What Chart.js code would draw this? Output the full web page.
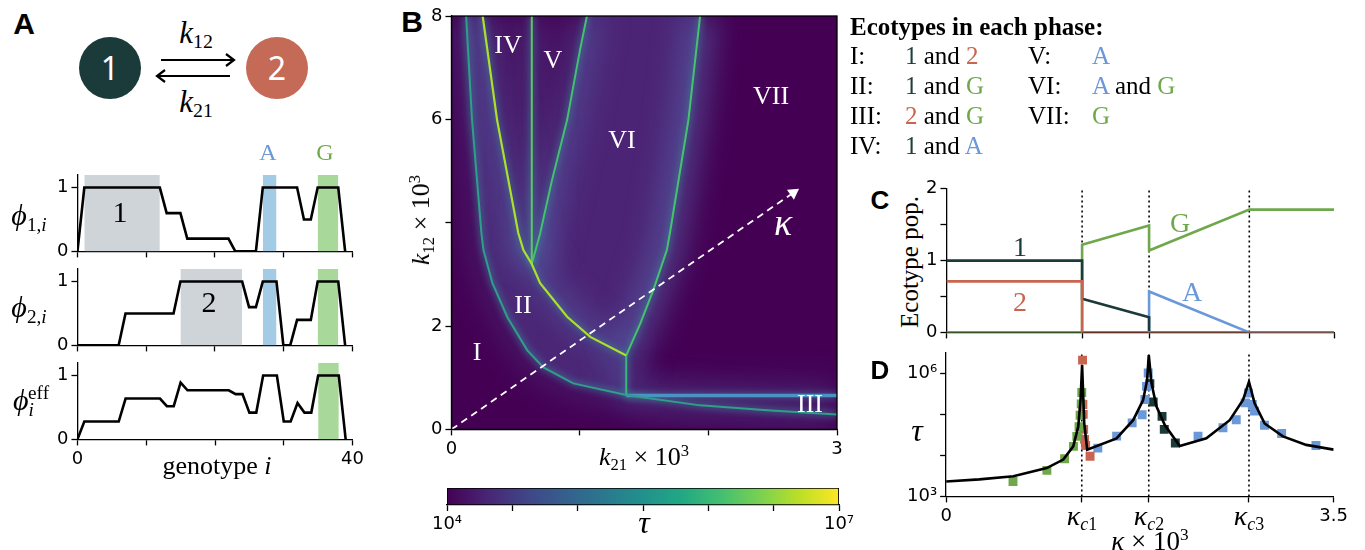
<!DOCTYPE html>
<html>
<head>
<meta charset="utf-8">
<title>Ecotype phases</title>
<script src="https://cdn.jsdelivr.net/npm/chart.js@4.4.1/dist/chart.umd.min.js"></script>
<style>
  body { margin: 0; background: #fff; }
  #fig { position: relative; width: 1365px; height: 550px; overflow: hidden; background: #fff; }
  .w { position: absolute; left: 0; top: 0; }
  .w canvas { display: block; }
  .t { position: absolute; transform: translate(-50%, -50%); white-space: nowrap; line-height: 1;
       font-family: "Liberation Serif", "DejaVu Serif", serif; }
  .l { transform: translate(0, -50%); }
  .rot { transform: translate(-50%, -50%) rotate(-90deg); }
  .i { font-style: italic; }
  .t sub { font-size: 0.64em; vertical-align: -0.3em; line-height: 0; }
  .t sup { font-size: 0.64em; vertical-align: 0.55em; line-height: 0; }
  .panel { font-family: "Liberation Sans", Arial, sans-serif; font-weight: bold; }
  .node { position: absolute; width: 62px; height: 62px; border-radius: 50%; color: #fff;
          font: 32px "Noto Sans", sans-serif; text-align: center; line-height: 62px; }
  .wh { color: #fff; font-size: 26px; }
</style>
</head>
<body>
<div id="fig">
  <div class="w" id="wA1"><canvas id="cA1" width="340" height="120"></canvas></div>
  <div class="w" id="wA2"><canvas id="cA2" width="340" height="120"></canvas></div>
  <div class="w" id="wA3"><canvas id="cA3" width="340" height="140"></canvas></div>
  <div class="w" id="wB"><canvas id="cB" width="460" height="480"></canvas></div>
  <div class="w" id="wCb"><canvas id="cCb" width="460" height="80"></canvas></div>
  <div class="w" id="wC"><canvas id="cC" width="440" height="180"></canvas></div>
  <div class="w" id="wD"><canvas id="cD" width="440" height="200"></canvas></div>

  <!-- panel A diagram -->
  <div class="t panel" style="left:24px;top:24px;font-size:30px">A</div>
  <div class="node" style="left:79px;top:37px;background:#1b3a3a">1</div>
  <div class="node" style="left:246px;top:37px;background:#c56a56">2</div>
  <svg style="position:absolute;left:0;top:0" width="360" height="130">
    <g stroke="#000" stroke-width="2.2" fill="none">
      <line x1="161" y1="60" x2="233" y2="60"/>
      <polyline points="226,54 234,60 226,66"/>
      <line x1="230" y1="76" x2="158" y2="76"/>
      <polyline points="165,70 157,76 165,82"/>
    </g>
  </svg>
  <div class="t" style="left:196px;top:32px;font-size:31px"><span class="i">k</span><sub>12</sub></div>
  <div class="t" style="left:196px;top:101px;font-size:31px"><span class="i">k</span><sub>21</sub></div>
  <div class="t" style="left:268px;top:152px;font-size:24px;color:#6a98d8">A</div>
  <div class="t" style="left:325px;top:152px;font-size:24px;color:#6fa84c">G</div>
  <div class="t" style="left:120px;top:212px;font-size:30px">1</div>
  <div class="t" style="left:209px;top:302px;font-size:30px">2</div>
  <div class="t" style="left:29px;top:215px;font-size:30px"><span class="i">ϕ</span><sub>1,<span class="i">i</span></sub></div>
  <div class="t" style="left:29px;top:307px;font-size:30px"><span class="i">ϕ</span><sub>2,<span class="i">i</span></sub></div>
  <div class="t" style="left:31px;top:400px;font-size:30px"><span class="i">ϕ</span><sub class="i">i</sub><sup style="margin-left:-0.3em">eff</sup></div>
  <div class="t" style="left:217px;top:466px;font-size:26px">genotype <span class="i">i</span></div>

  <!-- panel B -->
  <div class="t panel" style="left:412px;top:22px;font-size:30px">B</div>
  <div class="t rot" style="left:421px;top:220px;font-size:26px"><span class="i">k</span><sub>12</sub> × 10<sup>3</sup></div>
  <div class="t" style="left:644px;top:457px;font-size:26px"><span class="i">k</span><sub>21</sub> × 10<sup>3</sup></div>
  <div class="t wh" style="left:508px;top:45px">IV</div>
  <div class="t wh" style="left:553px;top:60px">V</div>
  <div class="t wh" style="left:622px;top:140px">VI</div>
  <div class="t wh" style="left:771px;top:96px">VII</div>
  <div class="t wh" style="left:523px;top:305px">II</div>
  <div class="t wh" style="left:477px;top:352px">I</div>
  <div class="t wh" style="left:810px;top:404px">III</div>
  <div class="t i" style="left:783px;top:222px;font-size:38px;color:#fff">κ</div>
  <div class="t i" style="left:644px;top:522px;font-size:32px">τ</div>

  <!-- legend -->
  <div class="t l" style="left:850px;top:26px;font-size:25px;font-weight:bold">Ecotypes in each phase:</div>
  <div class="t l" style="left:850px;top:55px;font-size:25px">I:</div>
  <div class="t l" style="left:850px;top:85px;font-size:25px">II:</div>
  <div class="t l" style="left:850px;top:115px;font-size:25px">III:</div>
  <div class="t l" style="left:850px;top:145px;font-size:25px">IV:</div>
  <div class="t l" style="left:905px;top:55px;font-size:25px"><span style="color:#1e3d3c">1</span> and <span style="color:#c8644f">2</span></div>
  <div class="t l" style="left:905px;top:85px;font-size:25px"><span style="color:#1e3d3c">1</span> and <span style="color:#6fa84c">G</span></div>
  <div class="t l" style="left:905px;top:115px;font-size:25px"><span style="color:#c8644f">2</span> and <span style="color:#6fa84c">G</span></div>
  <div class="t l" style="left:905px;top:145px;font-size:25px"><span style="color:#1e3d3c">1</span> and <span style="color:#6a98d8">A</span></div>
  <div class="t l" style="left:1028px;top:55px;font-size:25px">V:</div>
  <div class="t l" style="left:1028px;top:85px;font-size:25px">VI:</div>
  <div class="t l" style="left:1028px;top:115px;font-size:25px">VII:</div>
  <div class="t l" style="left:1092px;top:55px;font-size:25px"><span style="color:#6a98d8">A</span></div>
  <div class="t l" style="left:1092px;top:85px;font-size:25px"><span style="color:#6a98d8">A</span> and <span style="color:#6fa84c">G</span></div>
  <div class="t l" style="left:1092px;top:115px;font-size:25px"><span style="color:#6fa84c">G</span></div>

  <!-- panel C -->
  <div class="t panel" style="left:880px;top:200px;font-size:26px">C</div>
  <div class="t rot" style="left:909px;top:262px;font-size:25px">Ecotype pop.</div>
  <div class="t" style="left:1020px;top:247px;font-size:28px;color:#1b3a3a">1</div>
  <div class="t" style="left:1020px;top:302px;font-size:28px;color:#c8644f">2</div>
  <div class="t" style="left:1180px;top:223px;font-size:28px;color:#6fa84c">G</div>
  <div class="t" style="left:1192px;top:292px;font-size:28px;color:#6a98d8">A</div>

  <!-- panel D -->
  <div class="t panel" style="left:880px;top:370px;font-size:26px">D</div>
  <div class="t i" style="left:917px;top:430px;font-size:32px">τ</div>
  <div class="t" style="left:1082px;top:516px;font-size:28px"><span class="i">κ</span><sub><span class="i">c</span>1</sub></div>
  <div class="t" style="left:1149px;top:516px;font-size:28px"><span class="i">κ</span><sub><span class="i">c</span>2</sub></div>
  <div class="t" style="left:1249px;top:516px;font-size:28px"><span class="i">κ</span><sub><span class="i">c</span>3</sub></div>
  <div class="t" style="left:1150px;top:541px;font-size:27px"><span class="i">κ</span> × 10<sup>3</sup></div>
</div>

<script>
// ---- panel A: genotype profiles ----
const phi1X = [0, 1, 12, 13, 15, 16, 22, 23, 26, 27, 32, 33, 34, 35, 38, 39];
const phi1Y = [0, 1, 1, 0.6, 0.6, 0.2, 0.2, 0, 0, 1, 1, 0.5, 0.5, 1, 1, 0];
const phi2X = [0, 6, 7, 14, 15, 24, 25, 26, 27, 29, 30, 31, 32, 34, 35, 38, 39];
const phi2Y = [0, 0, 0.5, 0.5, 1, 1, 0.6, 0.6, 1, 1, 0, 0, 0.4, 0.4, 1, 1, 0];
const phiEffX = [0, 1, 6, 7, 12, 13, 14, 15, 16, 22, 23, 24, 25, 26, 27, 29, 30, 31, 32, 33, 34, 35, 38, 39];
const phiEffY = [0, 0.28, 0.28, 0.64, 0.64, 0.52, 0.52, 0.89, 0.77, 0.77, 0.71, 0.71, 0.42, 0.42, 1, 1, 0.28, 0.28, 0.57, 0.42, 0.42, 1, 1, 0];
// highlighted genotype ranges and which ecotype they belong to
const phi1Bands = [[1, 12], [27, 29], [35, 38]];
const phi1BandKinds = ['1', 'A', 'G'];
const phi2Bands = [[15, 24], [27, 29], [35, 38]];
const phi2BandKinds = ['2', 'A', 'G'];
const phiEffBands = [[35, 38]];
const phiEffBandKinds = ['G'];

// ---- panel B: phase boundaries (k21, k12) x 10^3 ----
const bndI_II_k21 = [0.114, 0.16, 0.233, 0.249, 0.319, 0.435, 0.59, 0.715, 0.948, 1.368, 1.935, 2.455, 3.0];
const bndI_II_k12 = [8.0, 5.99, 3.8, 3.47, 2.83, 2.17, 1.53, 1.2, 0.89, 0.66, 0.465, 0.37, 0.29];
const bndII_k21 = [0.243, 0.355, 0.52, 0.56, 0.625, 0.69, 0.9, 1.08, 1.36];
const bndII_k12 = [8.0, 5.99, 3.8, 3.47, 3.2, 2.83, 2.18, 1.79, 1.43];
const bndIV_V_k21 = [0.625, 0.625];
const bndIV_V_k12 = [3.2, 8.0];
const bndV_VI_k21 = [0.625, 0.69, 0.78, 0.9, 1.0, 1.054];
const bndV_VI_k12 = [3.2, 3.79, 4.8, 5.99, 7.34, 8.0];
const bndVI_VII_k21 = [1.36, 1.39, 1.47, 1.57, 1.676, 1.7, 1.844, 1.935];
const bndVI_VII_k12 = [1.43, 1.6, 2.05, 2.69, 3.47, 3.8, 5.99, 8.0];
const bndII_III_k21 = [1.36, 1.36];
const bndII_III_k12 = [0.655, 1.43];
const bndIII_k21 = [1.36, 3.0];
const bndIII_k12 = [0.655, 0.655];
const kappaPathK21 = [0, 2.66];
const kappaPathK12 = [0, 4.58];

// ---- colorbar ----
const tauBarRange = [1e4, 1e7];
const tauBarTicks = [1e4, 10 ** 4.5, 1e5, 10 ** 5.5, 1e6, 10 ** 6.5, 1e7];

// ---- panel C: ecotype populations vs kappa ----
const kappaC = [1.225, 1.83, 2.735];
const pop1K = [0, 1.225, 1.225, 1.83, 1.83, 3.5];
const pop1V = [1, 1, 0.47, 0.21, 0, 0];
const pop2K = [0, 1.225, 1.225, 3.5];
const pop2V = [0.71, 0.71, 0, 0];
const popGK = [0, 1.225, 1.225, 1.83, 1.83, 2.735, 3.5];
const popGV = [0, 0, 1.22, 1.49, 1.14, 1.71, 1.71];
const popAK = [1.83, 1.83, 2.735, 3.5];
const popAV = [0, 0.57, 0, 0];

// ---- panel D: relaxation time tau vs kappa ----
const tauCurveK = [0, 0.3, 0.607, 0.908, 1.058, 1.148, 1.193, 1.214, 1.228, 1.247, 1.274, 1.539, 1.689, 1.779, 1.815,
  1.83, 1.855, 1.9, 1.975, 2.11, 2.35, 2.561, 2.681, 2.735, 2.786, 2.876, 3.042, 3.252, 3.5];
const tauCurve = [2.3e3, 2.6e3, 3.1e3, 4.9e3, 7.9e3, 1.66e4, 5.0e4, 2.24e5, 1.6e6, 6.2e4, 1.38e4, 2.6e4, 7.2e4, 2.24e5, 6.8e5,
  2.8e6, 5.6e5, 1.55e5, 5.5e4, 1.7e4, 2.6e4, 7.2e4, 2.24e5, 6.2e5, 1.86e5, 6.0e4, 2.9e4, 1.8e4, 1.38e4];
const simGK = [0.604, 0.91, 1.07, 1.15, 1.18, 1.2, 1.21, 1.22, 1.225];
const simGTau = [2.3e3, 4.3e3, 8.3e3, 1.66e4, 2.9e4, 5.0e4, 9.5e4, 1.8e5, 3.4e5];
const sim2K = [1.232, 1.235, 1.238, 1.242, 1.25, 1.26, 1.3];
const sim2Tau = [2.1e6, 1.74e5, 1.0e5, 4.3e4, 2.45e4, 1.74e4, 9.5e3];
const simA1K = [1.37, 1.54, 1.68, 1.77, 1.795, 1.81, 1.825];
const simA1Tau = [1.5e4, 2.95e4, 6.2e4, 9.8e4, 2.3e5, 4.8e5, 1.02e6];
const sim1K = [1.84, 1.87, 1.95, 1.97, 2.07];
const sim1Tau = [5.6e5, 2.0e5, 8.9e4, 4.3e4, 2.0e4];
const simA2K = [2.275, 2.5, 2.62, 2.7, 2.73, 2.765, 2.785, 2.875, 3.03, 3.34];
const simA2Tau = [2.95e4, 4.7e4, 7.4e4, 1.9e5, 3.3e5, 1.74e5, 1.2e5, 5.4e4, 3.4e4, 1.74e4];

// colours
const ecoColor = { '1': '#1b3a3a', '2': '#c8644f', 'A': '#6a98d8', 'G': '#6fa84c' };
const bandColor = { '1': '#cfd4d8', '2': '#cfd4d8', 'A': '#a3cbe6', 'G': '#a8d89a' };
const viridis = ['#440154', '#482475', '#414487', '#355f8d', '#2a788e', '#21918c', '#22a884', '#44bf70', '#7ad151', '#bddf26', '#fde725'];

Chart.defaults.font.family = '"DejaVu Sans", sans-serif';
Chart.defaults.font.size = 18;
Chart.defaults.color = '#000';
Chart.defaults.animation = false;
Chart.defaults.responsive = false;
Chart.defaults.maintainAspectRatio = false;
Chart.defaults.plugins.legend.display = false;
Chart.defaults.plugins.tooltip.enabled = false;
Chart.defaults.elements.point.radius = 0;
Chart.defaults.elements.line.tension = 0;

const pts = (xs, ys) => xs.map((x, i) => ({ x, y: ys[i] }));

function axis(min, max, vals, label, extra) {
  return Object.assign({
    type: 'linear', min, max, bounds: 'data',
    afterBuildTicks: s => { s.ticks = vals.map(v => ({ value: v })); },
    ticks: { autoSkip: false, maxRotation: 0, padding: 3, callback: label },
    grid: { drawOnChartArea: false, tickLength: 6, tickColor: '#000', tickWidth: 1.3 },
    border: { color: '#000', width: 1.3 }
  }, extra || {});
}

function line(data, color, width, extra) {
  return Object.assign({ data, showLine: true, borderColor: color, borderWidth: width, pointRadius: 0, fill: false }, extra || {});
}

// resize the canvas so the plot area has the wanted size, then move it into place
function place(chart, x, y, w, h) {
  for (let k = 0; k < 2; k++) {
    const a = chart.chartArea;
    chart.resize(Math.round(chart.width + w - (a.right - a.left)), Math.round(chart.height + h - (a.bottom - a.top)));
  }
  const a = chart.chartArea;
  const wrap = chart.canvas.parentNode;
  wrap.style.left = (x - a.left) + 'px';
  wrap.style.top = (y - a.top) + 'px';
}

// ---- panel A charts ----
function phiChart(id, xs, ys, bands, kinds, showX) {
  const ds = bands.map((b, i) => line([{ x: b[0], y: 1.2 }, { x: b[1], y: 1.2 }], 'rgba(0,0,0,0)', 0,
    { fill: 'origin', backgroundColor: bandColor[kinds[i]], order: 2 }));
  ds.push(line(pts(xs, ys), '#000', 2.6, { order: 0 }));
  return new Chart(document.getElementById(id), {
    type: 'scatter',
    data: { datasets: ds },
    options: {
      scales: {
        x: axis(0, 40, [0, 10, 20, 30, 40], v => (showX && (v === 0 || v === 40)) ? String(v) : ''),
        y: axis(0, 1.2, [0, 1], v => String(v))
      }
    }
  });
}
const chA1 = phiChart('cA1', phi1X, phi1Y, phi1Bands, phi1BandKinds, false);
const chA2 = phiChart('cA2', phi2X, phi2Y, phi2Bands, phi2BandKinds, false);
const chA3 = phiChart('cA3', phiEffX, phiEffY, phiEffBands, phiEffBandKinds, true);
place(chA1, 77, 175, 275, 77);
place(chA2, 77, 269, 275, 77);
place(chA3, 77, 363, 275, 77);

// ---- panel B: phase map ----
const heatBase = {
  id: 'heatBase',
  beforeDraw(chart) {
    const { ctx, chartArea: a } = chart;
    ctx.save();
    ctx.fillStyle = '#440154';
    ctx.fillRect(a.left, a.top, a.right - a.left, a.bottom - a.top);
    ctx.restore();
  }
};
const frame = {
  id: 'frame',
  afterDatasetsDraw(chart) {
    const { ctx, chartArea: a } = chart;
    ctx.save();
    ctx.strokeStyle = '#000';
    ctx.lineWidth = 1.3;
    ctx.strokeRect(a.left, a.top, a.right - a.left, a.bottom - a.top);
    ctx.restore();
  }
};
// soft glow: blur the whole dataset when it carries a "blur" value
const glow = {
  id: 'glow',
  beforeDatasetDraw(chart, args) {
    const b = chart.data.datasets[args.index].blur;
    if (b) { chart.ctx.save(); chart.ctx.filter = 'blur(' + b + 'px)'; }
  },
  afterDatasetDraw(chart, args) {
    if (chart.data.datasets[args.index].blur) chart.ctx.restore();
  }
};

const regionVI = [...pts(bndV_VI_k21, bndV_VI_k12), ...pts(bndVI_VII_k21, bndVI_VII_k12).reverse(),
  ...pts(bndII_k21, bndII_k12).filter(p => p.x >= 0.625).reverse()];
const regionII = [...pts(bndI_II_k21, bndI_II_k12).filter(p => p.x <= 1.368), ...pts(bndII_k21, bndII_k12).reverse()];

const boundaries = [
  [bndI_II_k21, bndI_II_k12, '#2f9e8a', 2, 0.5],
  [bndII_k21, bndII_k12, '#b2dd2c', 2.2, 1],
  [bndIV_V_k21, bndIV_V_k12, '#5cc863', 2, 0.8],
  [bndV_VI_k21, bndV_VI_k12, '#45bf70', 2, 1],
  [bndVI_VII_k21, bndVI_VII_k12, '#48c16e', 2, 1.3],
  [bndII_III_k21, bndII_III_k12, '#3bb67a', 2, 0.8],
  [bndIII_k21, bndIII_k12, '#4b93c4', 3.5, 0.5]
];
const bDatasets = [
  line(regionVI, 'rgba(0,0,0,0)', 0, { fill: 'shape', backgroundColor: 'rgba(80,58,138,0.62)', order: 9, blur: 16 }),
  line(regionII, 'rgba(0,0,0,0)', 0, { fill: 'shape', backgroundColor: 'rgba(80,58,138,0.5)', order: 9, blur: 14 })
];
boundaries.forEach(([xs, ys, c, w, g]) => {
  bDatasets.push(line(pts(xs, ys), 'rgba(85,95,165,' + (0.45 * g) + ')', 34, { order: 7, blur: 14, borderJoinStyle: 'round' }));
  bDatasets.push(line(pts(xs, ys), 'rgba(60,130,150,0.55)', 6, { order: 5, blur: 3, borderJoinStyle: 'round' }));
  bDatasets.push(line(pts(xs, ys), c, w, { order: 2 }));
});
bDatasets.push(line(pts(kappaPathK21, kappaPathK12), '#fff', 1.8, {
  borderDash: [7, 5], order: 0, pointRadius: [0, 7], pointStyle: 'triangle',
  pointBackgroundColor: '#fff', pointBorderWidth: 0,
  pointRotation: ctx => {
    const { x, y } = ctx.chart.scales;
    const dx = x.getPixelForValue(kappaPathK21[1]) - x.getPixelForValue(kappaPathK21[0]);
    const dy = y.getPixelForValue(kappaPathK12[1]) - y.getPixelForValue(kappaPathK12[0]);
    return Math.atan2(dx, -dy) * 180 / Math.PI;
  }
}));

const chB = new Chart(document.getElementById('cB'), {
  type: 'scatter',
  data: { datasets: bDatasets },
  options: {
    scales: {
      x: axis(0, 3, [0, 1, 2, 3], v => (v === 0 || v === 3) ? String(v) : ''),
      y: axis(0, 8, [0, 2, 4, 6, 8], v => v === 4 ? '' : String(v))
    }
  },
  plugins: [heatBase, glow, frame]
});
place(chB, 451, 16, 386, 413);

// ---- colorbar ----
const chCb = new Chart(document.getElementById('cCb'), {
  type: 'bar',
  data: {
    labels: ['τ'],
    datasets: [{
      data: [tauBarRange],
      backgroundColor: ctx => {
        const a = ctx.chart.chartArea;
        if (!a) return viridis[0];
        const g = ctx.chart.ctx.createLinearGradient(a.left, 0, a.right, 0);
        viridis.forEach((c, i) => g.addColorStop(i / (viridis.length - 1), c));
        return g;
      },
      borderColor: '#000', borderWidth: 1.2, borderSkipped: false,
      barPercentage: 1, categoryPercentage: 1
    }]
  },
  options: {
    layout: { padding: { left: 20, right: 20 } },
    indexAxis: 'y',
    scales: {
      // the layout caps an axis at half the canvas height; the thin bar needs a taller axis
      x: axis(tauBarRange[0], tauBarRange[1], tauBarTicks,
        v => v === 1e4 ? '10⁴' : (v === 1e7 ? '10⁷' : ''),
        { type: 'logarithmic', afterFit: s => { s.height = 34; } }),
      y: { display: false }
    }
  }
});
place(chCb, 447, 488, 392, 17);

// ---- panel C ----
const chC = new Chart(document.getElementById('cC'), {
  type: 'scatter',
  data: {
    datasets: [
      line(pts(pop2K, pop2V), ecoColor['2'], 2.6, { order: 0 }),
      line(pts(pop1K, pop1V), ecoColor['1'], 2.6, { order: 1 }),
      line(pts(popAK, popAV), ecoColor['A'], 2.6, { order: 2 }),
      line(pts(popGK, popGV), ecoColor['G'], 2.6, { order: 3 }),
      ...kappaC.map(k => line([{ x: k, y: 0 }, { x: k, y: 2 }], '#000', 1.6, { borderDash: [2, 3], order: 4 }))
    ]
  },
  options: {
    scales: {
      x: axis(0, 3.5, [0, ...kappaC, 3.5], () => ''),
      y: axis(0, 2, [0, 0.5, 1, 1.5, 2], v => Number.isInteger(v) ? String(v) : '')
    }
  }
});
place(chC, 946, 189, 388, 144);

// ---- panel D ----
const tauMax = 10 ** 6.5;
const square = (xs, ys, c) => ({
  data: pts(xs, ys), showLine: false, pointStyle: 'rect', pointRadius: 6.3,
  pointBackgroundColor: c, pointBorderWidth: 0, order: 1
});
const chD = new Chart(document.getElementById('cD'), {
  type: 'scatter',
  data: {
    datasets: [
      line(pts(tauCurveK, tauCurve), '#000', 2.6, { order: 0 }),
      square(simGK, simGTau, ecoColor['G']),
      square(sim2K, sim2Tau, ecoColor['2']),
      square(simA1K, simA1Tau, ecoColor['A']),
      square(sim1K, sim1Tau, ecoColor['1']),
      square(simA2K, simA2Tau, ecoColor['A']),
      ...kappaC.map(k => line([{ x: k, y: 1e3 }, { x: k, y: tauMax }], '#000', 1.6, { borderDash: [2, 3], order: 3 }))
    ]
  },
  options: {
    scales: {
      x: axis(0, 3.5, [0, ...kappaC, 3.5], v => v === 0 ? '0' : (v === 3.5 ? '3.5' : '')),
      y: axis(1e3, tauMax, [1e3, 1e4, 1e5, 1e6], v => v === 1e3 ? '10³' : (v === 1e6 ? '10⁶' : ''), { type: 'logarithmic' })
    }
  }
});
place(chD, 946, 353, 388, 144);
</script>
</body>
</html>
